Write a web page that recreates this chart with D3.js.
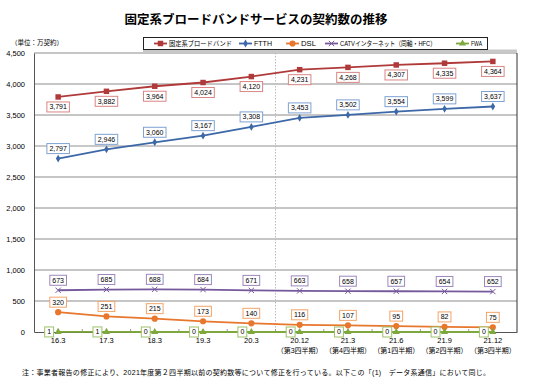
<!DOCTYPE html>
<html>
<head>
<meta charset="utf-8">
<script src="https://cdn.jsdelivr.net/npm/d3@7"></script>
<style>
  body { margin: 0; background: #fff; }
  svg { font-family: "Liberation Sans", "Noto Sans CJK JP", sans-serif; }
</style>
</head>
<body>
<div id="chart"></div>
<script>
var cats = ["16.3", "17.3", "18.3", "19.3", "20.3", "20.12", "21.3", "21.6", "21.9", "21.12"];
var quarters = ["", "", "", "", "", "（第3四半期）", "（第4四半期）", "（第1四半期）", "（第2四半期）", "（第3四半期）"];
var broadband = [3791, 3882, 3964, 4024, 4120, 4231, 4268, 4307, 4335, 4364];
var ftth = [2797, 2946, 3060, 3167, 3308, 3453, 3502, 3554, 3599, 3637];
var dsl = [320, 251, 215, 173, 140, 116, 107, 95, 82, 75];
var catv = [673, 685, 688, 684, 671, 663, 658, 657, 654, 652];
var fwa = [1, 1, 0, 0, 0, 0, 0, 0, 0, 0];
var yTicks = [0, 500, 1000, 1500, 2000, 2500, 3000, 3500, 4000, 4500];

var series = [
  {name: "固定系ブロードバンド", values: broadband, color: "#B03A3A", box: "#D98585", marker: "square", pos: "below"},
  {name: "FTTH", values: ftth, color: "#3D68A8", box: "#7FA2D2", marker: "diamond", pos: "above"},
  {name: "DSL", values: dsl, color: "#E8772E", box: "#F4A468", marker: "circle", pos: "above"},
  {name: "CATVインターネット（同軸・HFC）", values: catv, color: "#76599C", box: "#9C87BD", marker: "cross", pos: "above"},
  {name: "FWA", values: fwa, color: "#7EA83E", box: "#9DC269", marker: "triangle", pos: "left"}
];

var width = 550, height = 385;
var svg = d3.select("#chart").append("svg").attr("width", width).attr("height", height);

var x = d3.scaleBand().domain(cats).range([34, 517]),
    y = d3.scaleLinear().domain([0, 4500]).range([332, 53]);
var cx = function(c) { return x(c) + x.bandwidth() / 2; };

// title
svg.append("text")
    .attr("x", 256).attr("y", 24)
    .attr("text-anchor", "middle")
    .style("font-size", "12.5px").style("font-weight", "bold")
    .text("固定系ブロードバンドサービスの契約数の推移");

svg.append("text")
    .attr("x", 11).attr("y", 45)
    .style("font-size", "6.5px")
    .text("（単位：万契約）");

// gridlines
svg.append("g").selectAll("line")
  .data(yTicks.filter(function(d) { return d > 0; }))
  .enter().append("line")
    .attr("x1", 34).attr("x2", 517)
    .attr("y1", function(d) { return y(d); })
    .attr("y2", function(d) { return y(d); })
    .attr("stroke", function(d) { return d === 3000 ? "#c8c8c8" : "#8c8c8c"; })
    .attr("stroke-width", function(d) { return d === 3000 ? 2 : 1; });

// separator
svg.append("line")
    .attr("x1", x("20.12")).attr("x2", x("20.12"))
    .attr("y1", y(4500)).attr("y2", y(0))
    .attr("stroke", "#bbb").attr("stroke-dasharray", "1.5,1.5");

// right border
svg.append("line")
    .attr("x1", 517).attr("x2", 517).attr("y1", y(4500)).attr("y2", y(0))
    .attr("stroke", "#333");

// y axis
var yAxis = svg.append("g")
    .attr("transform", "translate(34,0)")
    .call(d3.axisLeft(y).tickValues(yTicks).tickSize(0).tickPadding(9).tickFormat(d3.format(",")));
yAxis.select(".domain").attr("stroke", "#555");
yAxis.selectAll("text").style("font-size", "7.5px").style("font-family", "Liberation Sans, sans-serif").attr("fill", "#000");

// x axis
var xAxis = svg.append("g")
    .attr("transform", "translate(0," + y(0) + ")")
    .call(d3.axisBottom(x).tickSize(0).tickFormat(""));
xAxis.select(".domain").attr("stroke", "#555");
svg.append("g").selectAll("line")
  .data(cats.slice(1))
  .enter().append("line")
    .attr("x1", function(d) { return x(d); }).attr("x2", function(d) { return x(d); })
    .attr("y1", y(0)).attr("y2", y(0) - 3)
    .attr("stroke", "#999");

var xl = svg.append("g").selectAll("text")
  .data(cats)
  .enter().append("text")
    .attr("x", function(d) { return cx(d); })
    .attr("y", 343)
    .attr("text-anchor", "middle")
    .style("font-size", "7.5px");
xl.append("tspan").text(function(d) { return d; });
xl.append("tspan")
    .attr("x", function(d) { return cx(d); })
    .attr("dy", 9.5)
    .style("font-size", "7px")
    .text(function(d, i) { return quarters[i]; });

// lines
var line = d3.line()
    .x(function(d, i) { return cx(cats[i]); })
    .y(function(d) { return y(d); });

var sym = {
  square: d3.symbol().type(d3.symbolSquare).size(30),
  diamond: d3.symbol().type(d3.symbolDiamond).size(18),
  circle: d3.symbol().type(d3.symbolCircle).size(30),
  cross: d3.symbol().type(d3.symbolX).size(20),
  triangle: d3.symbol().type(d3.symbolTriangle).size(22)
};

var s = svg.selectAll(".series")
  .data(series)
  .enter().append("g")
    .attr("class", "series");

s.append("path")
    .attr("d", function(d) { return line(d.values); })
    .attr("fill", "none")
    .attr("stroke", function(d) { return d.color; })
    .attr("stroke-width", 1.8);

s.each(function(ser) {
  var g = d3.select(this);
  g.selectAll(".pt")
    .data(ser.values)
    .enter().append("path")
      .attr("class", "pt")
      .attr("transform", function(d, i) { return "translate(" + cx(cats[i]) + "," + y(d) + ")"; })
      .attr("d", sym[ser.marker]())
      .attr("fill", ser.marker === "cross" ? "none" : ser.color)
      .attr("stroke", ser.marker === "cross" ? ser.color : "none")
      .attr("stroke-width", 1);

  var lab = g.selectAll(".lab")
    .data(ser.values)
    .enter().append("g")
      .attr("class", "lab")
      .attr("transform", function(d, i) {
        var px = cx(cats[i]), py = y(d);
        if (ser.pos === "below") py += 10;
        else if (ser.pos === "above") py -= 10;
        else px -= 9;
        return "translate(" + px + "," + py + ")";
      });
  lab.append("text")
      .attr("text-anchor", "middle")
      .attr("dy", "0.35em")
      .style("font-size", "7px")
      .text(function(d) { return d3.format(",")(d); });
  lab.each(function() {
    var t = d3.select(this).select("text");
    var w = t.node().getComputedTextLength();
    d3.select(this).insert("rect", "text")
      .attr("x", -w / 2 - 2.5).attr("y", -5)
      .attr("width", w + 5).attr("height", 10)
      .attr("fill", "#fff")
      .attr("stroke", ser.box).attr("stroke-width", 1);
  });
});

// legend
svg.append("rect")
    .attr("x", 143).attr("y", 49.5).attr("width", 374).attr("height", 2.5)
    .attr("fill", "#c8c8c8");
svg.append("rect")
    .attr("x", 143.5).attr("y", 37.5).attr("width", 344).attr("height", 12)
    .attr("fill", "#fff").attr("stroke", "#222").attr("stroke-width", 1);

var legX = [154, 239, 286, 325, 456];
var legW = [63, 18, 15, 96, 11];
var leg = svg.selectAll(".leg")
  .data(series)
  .enter().append("g")
    .attr("class", "leg")
    .attr("transform", function(d, i) { return "translate(" + legX[i] + ",43.5)"; });
leg.append("line")
    .attr("x1", 0).attr("x2", 13)
    .attr("stroke", function(d) { return d.color; }).attr("stroke-width", 1.8);
leg.append("path")
    .attr("transform", "translate(6.5,0)")
    .attr("d", function(d) { return sym[d.marker](); })
    .attr("fill", function(d) { return d.marker === "cross" ? "none" : d.color; })
    .attr("stroke", function(d) { return d.marker === "cross" ? d.color : "none"; });
leg.append("text")
    .attr("x", 15).attr("dy", "0.35em")
    .attr("textLength", function(d, i) { return legW[i]; })
    .attr("lengthAdjust", "spacingAndGlyphs")
    .style("font-size", "6.8px")
    .text(function(d) { return d.name; });

// footnote
svg.append("text")
    .attr("x", 22).attr("y", 375)
    .attr("textLength", 468)
    .attr("lengthAdjust", "spacing")
    .style("font-size", "7px")
    .text("注：事業者報告の修正により、2021年度第２四半期以前の契約数等について修正を行っている。以下この「(1)　データ系通信」において同じ。");
</script>
</body>
</html>
